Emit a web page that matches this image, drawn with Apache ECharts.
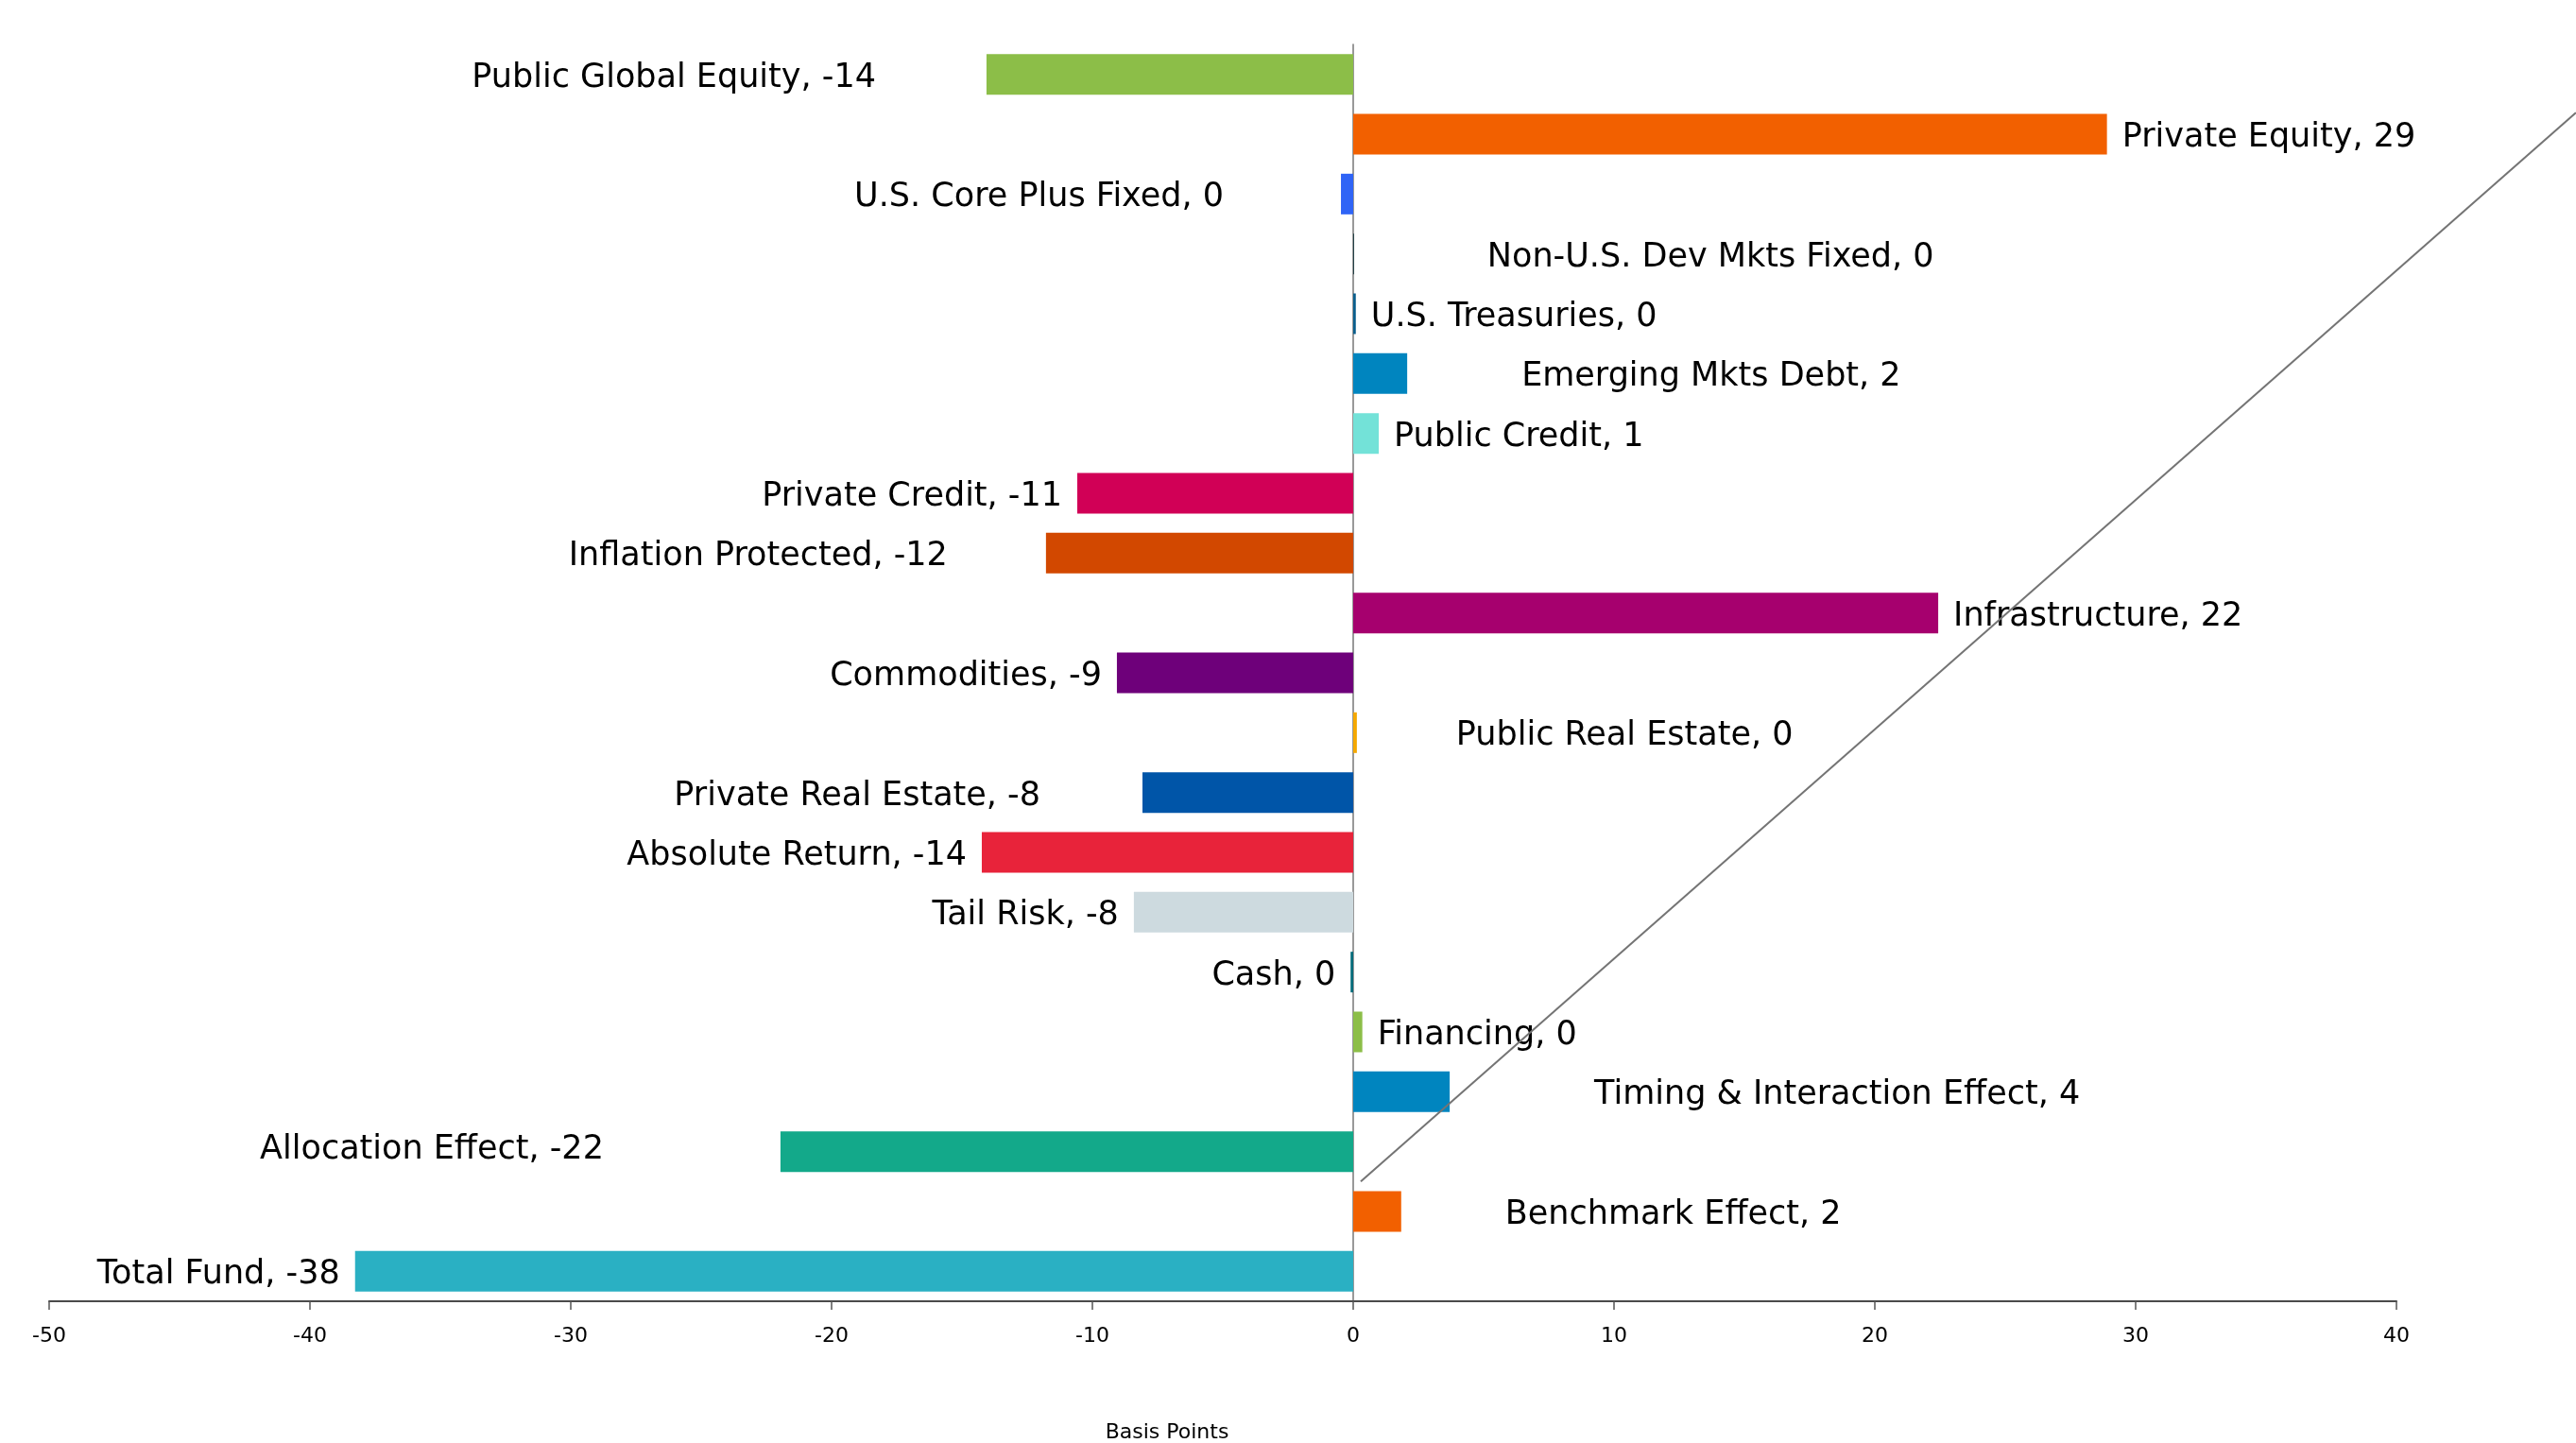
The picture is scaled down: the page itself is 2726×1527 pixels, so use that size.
<!DOCTYPE html>
<html><head><meta charset="utf-8">
<script src="https://cdn.jsdelivr.net/npm/echarts@6/dist/echarts.min.js"></script>
<style>html,body{margin:0;padding:0;background:#fff;overflow:hidden}#c{width:2726px;height:1527px}</style>
</head><body><div id="c"></div>
<script>
// ---- data ----
const categories = [
  'Public Global Equity', 'Private Equity', 'U.S. Core Plus Fixed', 'Non-U.S. Dev Mkts Fixed',
  'U.S. Treasuries', 'Emerging Mkts Debt', 'Public Credit', 'Private Credit',
  'Inflation Protected', 'Infrastructure', 'Commodities', 'Public Real Estate',
  'Private Real Estate', 'Absolute Return', 'Tail Risk', 'Cash', 'Financing',
  'Timing & Interaction Effect', 'Allocation Effect', 'Benchmark Effect', 'Total Fund'
];
const values = [
  -14.06, 28.9, -0.47, 0.03,
  0.1, 2.07, 0.98, -10.58,
  -11.78, 22.43, -9.06, 0.14,
  -8.08, -14.24, -8.41, -0.1, 0.35,
  3.7, -21.96, 1.84, -38.27
];
const barColors = [
  '#8CBE48', '#F26000', '#2F64F6', '#0A2F35',
  '#0A5E8C', '#0085BF', '#73E2D8', '#D10056',
  '#D24800', '#A6006E', '#6E007A', '#F5A800',
  '#0055A8', '#E8233A', '#CDDADF', '#006B7A', '#8CBE48',
  '#0085BF', '#13A98A', '#F26000', '#2AB0C3'
];
const xTickValues = [-50, -40, -30, -20, -10, 0, 10, 20, 30, 40];
const axisTitle = 'Basis Points';
// trend line in data units: [x value, category-band position]
const trendLine = [[0.29, 19.0], [46.88, 1.14]];

// ---- layout (label nudges, px) ----
const labelShift = [
  [-101, 4], [0, 4], [-108, 4], [125, 4],
  [0, 4], [105, 4], [0, 4], [0, 4],
  [-88, 4], [0, 4], [0, 4], [89, 4],
  [-92, 4], [0, 4], [0, 4], [0, 4], [0, 4],
  [137, 4], [-171, -2], [94, 4], [0, 4]
];

const FONT = 'DejaVu Sans';
const GRID_LEFT = 52, GRID_RIGHT = 190, GRID_TOP = 47, GRID_BOTTOM = 150;
const CHART_W = 2726;
// overlay x-range so the overlay grid reaches the canvas' right edge with the same scale
const unitPx = (CHART_W - GRID_LEFT - GRID_RIGHT) / (xTickValues[xTickValues.length - 1] - xTickValues[0]);
const overlayMax = xTickValues[0] + (CHART_W - GRID_LEFT) / unitPx;

const barData = values.map((v, i) => ({
  value: v,
  itemStyle: { color: barColors[i] },
  label: {
    position: v < 0 ? 'left' : 'right',
    offset: labelShift[i]
  }
}));

const chart = echarts.init(document.getElementById('c'), null, { renderer: 'canvas' });
chart.setOption({
  animation: false,
  backgroundColor: '#ffffff',
  grid: [
    { left: GRID_LEFT, right: GRID_RIGHT, top: GRID_TOP, bottom: GRID_BOTTOM, containLabel: false, outerBoundsMode: 'none' },
    { left: GRID_LEFT, right: 0, top: GRID_TOP, bottom: GRID_BOTTOM, containLabel: false, outerBoundsMode: 'none' }
  ],
  xAxis: [
    {
      type: 'value',
      gridIndex: 0,
      min: xTickValues[0],
      max: xTickValues[xTickValues.length - 1],
      interval: xTickValues[1] - xTickValues[0],
      splitLine: { show: false },
      axisLine: { show: true, onZero: false, lineStyle: { color: '#4a4a4a', width: 2 } },
      axisTick: { show: true, length: 9, lineStyle: { color: '#555', width: 1.5 } },
      axisLabel: { fontSize: 22, color: '#000', margin: 26, fontFamily: FONT },
      name: axisTitle,
      nameLocation: 'middle',
      nameGap: 128,
      nameTextStyle: { fontSize: 22, color: '#000', fontFamily: FONT, padding: [0, 118, 0, 0] }
    },
    {
      type: 'value',
      gridIndex: 1,
      min: xTickValues[0],
      max: overlayMax,
      show: false,
      splitLine: { show: false }
    }
  ],
  yAxis: [
    {
      type: 'category',
      gridIndex: 0,
      data: categories,
      inverse: true,
      axisLine: { show: true, onZero: true, lineStyle: { color: '#777', width: 1.5 } },
      axisTick: { show: false },
      axisLabel: { show: false },
      splitLine: { show: false }
    },
    {
      type: 'value',
      gridIndex: 1,
      min: 0,
      max: categories.length,
      inverse: true,
      show: false,
      splitLine: { show: false }
    }
  ],
  series: [
    {
      type: 'bar',
      xAxisIndex: 0,
      yAxisIndex: 0,
      data: barData,
      barWidth: 43,
      label: {
        show: true,
        distance: 16,
        fontSize: 35,
        color: '#000',
        fontFamily: FONT,
        formatter: p => p.name + ', ' + String(Math.round(p.value))
      }
    },
    {
      type: 'line',
      xAxisIndex: 1,
      yAxisIndex: 1,
      data: trendLine,
      symbol: 'none',
      silent: true,
      lineStyle: { color: '#747474', width: 2 },
      z: 5
    }
  ]
});
</script>
</body></html>
